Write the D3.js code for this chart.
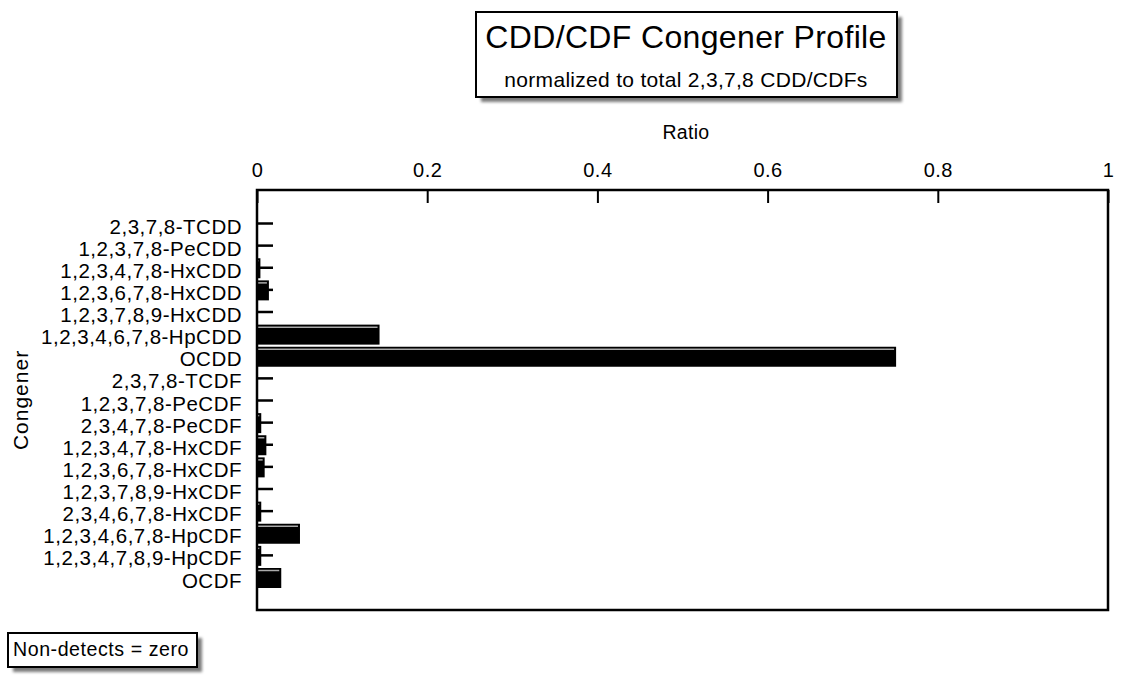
<!DOCTYPE html>
<html><head><meta charset="utf-8">
<script src="https://cdn.jsdelivr.net/npm/d3@7"></script>
<style>body{margin:0;background:#fff}svg{display:block;font-family:"Liberation Sans",Arial,sans-serif}</style>
</head><body>
<script>
const categories = ["2,3,7,8-TCDD","1,2,3,7,8-PeCDD","1,2,3,4,7,8-HxCDD","1,2,3,6,7,8-HxCDD","1,2,3,7,8,9-HxCDD","1,2,3,4,6,7,8-HpCDD","OCDD","2,3,7,8-TCDF","1,2,3,7,8-PeCDF","2,3,4,7,8-PeCDF","1,2,3,4,7,8-HxCDF","1,2,3,6,7,8-HxCDF","1,2,3,7,8,9-HxCDF","2,3,4,6,7,8-HxCDF","1,2,3,4,6,7,8-HpCDF","1,2,3,4,7,8,9-HpCDF","OCDF"];
const ratios = [0, 0, 0.004, 0.014, 0, 0.144, 0.751, 0, 0, 0.005, 0.011, 0.009, 0, 0.005, 0.0505, 0.005, 0.0285];
const xTicks = [0, 0.2, 0.4, 0.6, 0.8, 1];
const titleText = "CDD/CDF Congener Profile";
const subtitleText = "normalized to total 2,3,7,8 CDD/CDFs";
const noteText = "Non-detects = zero";

const W = 1127, H = 677;
const svg = d3.select("body").append("svg").attr("width", W).attr("height", H);
const defs = svg.append("defs");
const f = defs.append("filter").attr("id","sh").attr("x","-10%").attr("y","-10%").attr("width","130%").attr("height","140%");
f.append("feGaussianBlur").attr("stdDeviation",1.5);

const L = 257, R = 1108, T = 190, B = 610;
const x = d3.scaleLinear().domain([0,1]).range([L,R]);
const y = d3.scalePoint().domain(categories).range([223, 577]);

function box(x0,y0,w,h){
  svg.append("rect").attr("x",x0+5).attr("y",y0+5).attr("width",w).attr("height",h).attr("fill","#7a7a7a").attr("filter","url(#sh)");
  svg.append("rect").attr("x",x0).attr("y",y0).attr("width",w).attr("height",h).attr("fill","#fff").attr("stroke","#000").attr("stroke-width",2);
}
box(476,12,421,85);
svg.append("text").attr("x",686).attr("y",47.5).attr("text-anchor","middle").attr("font-size",32).attr("letter-spacing",0.35).text(titleText);
svg.append("text").attr("x",686).attr("y",87).attr("text-anchor","middle").attr("font-size",21).attr("letter-spacing",0.3).text(subtitleText);

box(8,633,189,34);
svg.append("text").attr("x",13).attr("y",656).attr("font-size",19.6).attr("letter-spacing",0.55).text(noteText);

svg.append("text").attr("x",686).attr("y",139).attr("text-anchor","middle").attr("font-size",19.5).attr("letter-spacing",0.3).text("Ratio");
svg.append("text").attr("transform","translate(28,400) rotate(-90)").attr("text-anchor","middle").attr("font-size",21).attr("letter-spacing",1).text("Congener");

const bh = 20;
const g = svg.append("g");
categories.forEach((c,i)=>{
  const v = ratios[i];
  if (v <= 0) return;
  const cy = y(c);
  g.append("rect").attr("x",L).attr("y",cy-9).attr("width",x(v)-L).attr("height",bh).attr("fill","#000");
  g.append("line").attr("x1",L).attr("x2",Math.max(L,x(v)-2)).attr("y1",cy-6.5).attr("y2",cy-6.5).attr("stroke","#aaa").attr("stroke-width",1.5);
});

svg.append("g").attr("transform",`translate(${L},0)`)
  .call(d3.axisLeft(y).tickSize(-16).tickPadding(30))
  .call(s=>{s.select(".domain").remove();
    s.selectAll(".tick line").attr("stroke","#000").attr("stroke-width",2.5);
    s.selectAll(".tick text").attr("x",-15).attr("dy",null).attr("y",10).attr("font-size",20.5).attr("letter-spacing",0.5)
      .attr("font-family","Liberation Sans, Arial, sans-serif").attr("fill","#000");});

svg.append("g").attr("transform",`translate(0,${T})`)
  .call(d3.axisTop(x).tickValues(xTicks).tickSize(-13).tickPadding(20).tickFormat(d3.format("")))
  .call(s=>{s.select(".domain").remove();
    s.selectAll(".tick line").attr("stroke","#000").attr("stroke-width",2);
    s.selectAll(".tick text").attr("y",-13.5).attr("font-size",20).attr("letter-spacing",0.5)
      .attr("font-family","Liberation Sans, Arial, sans-serif").attr("fill","#000");});

svg.append("rect").attr("x",L).attr("y",T).attr("width",R-L).attr("height",B-T).attr("fill","none").attr("stroke","#000").attr("stroke-width",2.5);
</script>
</body></html>
